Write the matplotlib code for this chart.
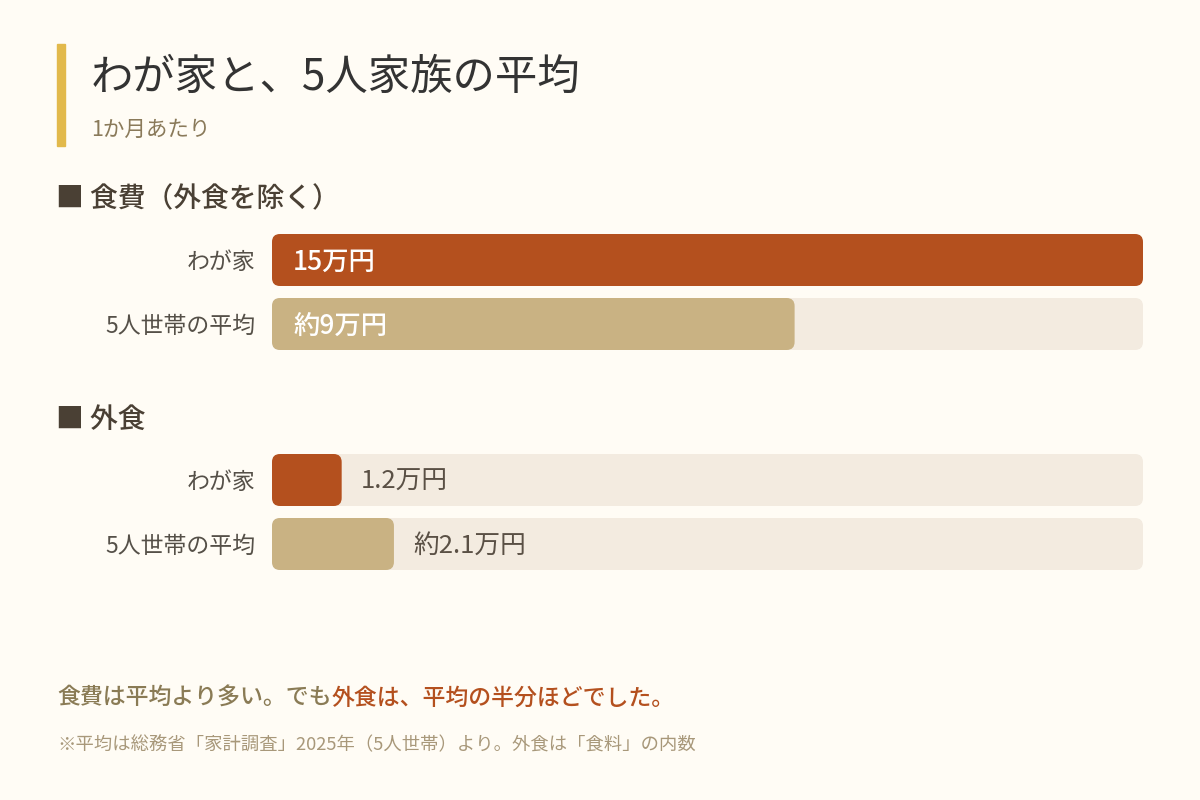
import matplotlib
matplotlib.use("Agg")
import matplotlib.pyplot as plt
from matplotlib.patches import FancyBboxPatch, Rectangle

plt.rcParams['font.family'] = ['Noto Sans CJK JP', 'DejaVu Sans']

# ---- data ----
title = "わが家と、5人家族の平均"
subtitle = "1か月あたり"
sections = ["■ 食費（外食を除く）", "■ 外食"]
row_labels = ["わが家", "5人世帯の平均"]
food_values = [15, 9]
food_texts = ["15万円", "約9万円"]
eatout_values = [1.2, 2.1]
eatout_texts = ["1.2万円", "約2.1万円"]
scale_max = 15
footer_a = "食費は平均より多い。でも"
footer_b = "外食は、平均の半分ほどでした。"
note = "※平均は総務省「家計調査」2025年（5人世帯）より。外食は「食料」の内数"

BG = "#FFFCF5"
ORANGE = "#B4501E"
TAN = "#C9B283"
TRACK = "#F3EBE0"
W, H = 1200, 800

fig = plt.figure(figsize=(12, 8), dpi=100, facecolor=BG)

def fx(px):
    return px / W

def fy(py):
    return 1 - py / H

# accent bar
fig.patches.append(Rectangle((fx(57), fy(146)), fx(8), (146 - 44) / H,
                             transform=fig.transFigure, color="#E2B94B", zorder=1))
fig.text(fx(91), fy(78), title, fontsize=30.5, color="#333333", va="center", ha="left")
fig.text(fx(91), fy(130), subtitle, fontsize=15.5, color="#8A7A5A", va="center", ha="left")

def section(ax_top, header_y, header, values, texts):
    left, right = 272, 1143
    top, bottom = ax_top, ax_top + 116
    ax = fig.add_axes([fx(left), fy(bottom), fx(right - left), (bottom - top) / H])
    ax.set_facecolor("none")
    ax.set_xlim(0, scale_max)
    half = 26 / 64
    ax.set_ylim(1 + half, -half)
    ax.axis("off")
    xu = scale_max / (right - left)       # data units per px in x
    yu = 1 / 64                            # data units per px in y
    r = 8
    colors = [ORANGE, TAN]
    for i in range(2):
        ax.add_patch(FancyBboxPatch((0, i - half), scale_max, 2 * half,
                                    boxstyle=f"round,pad=0,rounding_size={r * xu}",
                                    mutation_aspect=yu / xu, fc=TRACK, ec="none", zorder=1))
        ax.add_patch(FancyBboxPatch((0, i - half), values[i], 2 * half,
                                    boxstyle=f"round,pad=0,rounding_size={r * xu}",
                                    mutation_aspect=yu / xu, fc=colors[i], ec="none", zorder=2))
        ax.text(-17 * xu, i + 2 * yu, row_labels[i], fontsize=16.5, color="#555048",
                ha="right", va="center", clip_on=False)
        inside = values[i] / scale_max > 0.3
        if inside:
            ax.text(21 * xu, i + 2 * yu, texts[i], fontsize=19, fontweight="medium", color="white",
                    ha="left", va="center", zorder=3)
        else:
            ax.text(values[i] + 19 * xu, i + 2 * yu, texts[i], fontsize=18.5, color="#5A5045",
                    ha="left", va="center", zorder=3)
    fig.text(fx(56), fy(header_y), header, fontsize=20, fontweight="medium",
             color="#4A4034", ha="left", va="center")
    return ax

section(234, 199, sections[0], food_values, food_texts)
section(454, 419, sections[1], eatout_values, eatout_texts)

# footer with two colours
t1 = fig.text(fx(57), fy(698), footer_a, fontsize=16.5, fontweight="medium",
              color="#8A7B55", ha="left", va="center")
fig.canvas.draw()
bb = t1.get_window_extent()
fig.text(bb.x1 / W, fy(698), footer_b, fontsize=16.5, fontweight="medium",
         color=ORANGE, ha="left", va="center")
fig.text(fx(57), fy(745), note, fontsize=13.2, color="#A8987A", ha="left", va="center")

fig.savefig("out.png", dpi=100, facecolor=BG)
